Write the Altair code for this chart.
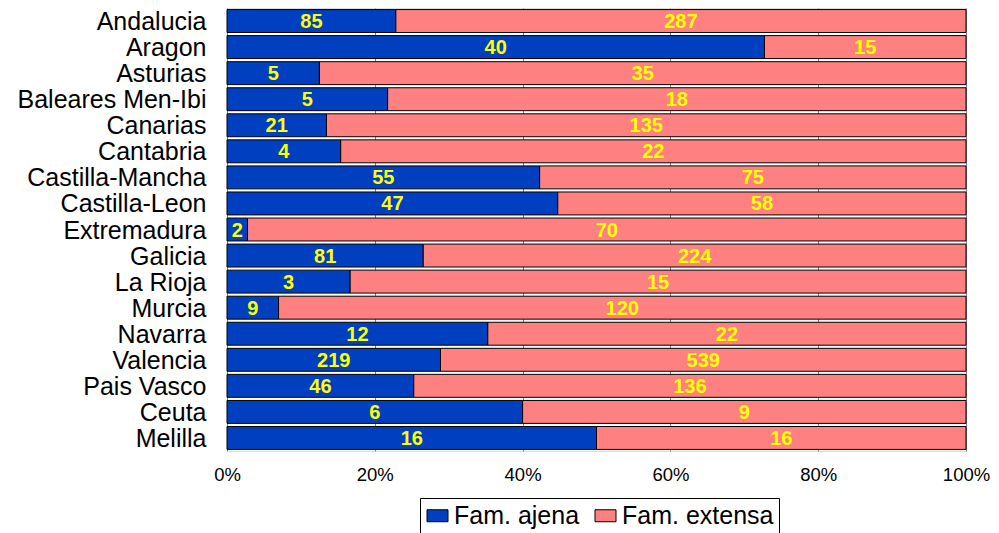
import altair as alt
import pandas as pd

regiones = ["Andalucia", "Aragon", "Asturias", "Baleares Men-Ibi", "Canarias",
            "Cantabria", "Castilla-Mancha", "Castilla-Leon", "Extremadura",
            "Galicia", "La Rioja", "Murcia", "Navarra", "Valencia",
            "Pais Vasco", "Ceuta ", "Melilla"]
fam_ajena = [85, 40, 5, 5, 21, 4, 55, 47, 2, 81, 3, 9, 12, 219, 46, 6, 16]
fam_extensa = [287, 15, 35, 18, 135, 22, 75, 58, 70, 224, 15, 120, 22, 539, 136, 9, 16]
series = ["Fam. ajena", "Fam. extensa"]
colores = ["#0040C0", "#FF8080"]
ticks_x = [0, 0.2, 0.4, 0.6, 0.8, 1.0]

rows = []
for r, a, e in zip(regiones, fam_ajena, fam_extensa):
    rows.append({"region": r, "tipo": series[0], "valor": a, "orden": 0})
    rows.append({"region": r, "tipo": series[1], "valor": e, "orden": 1})
df = pd.DataFrame(rows)

FONT = "Liberation Sans"

base = alt.Chart(df).transform_stack(
    stack="valor", groupby=["region"], as_=["x0", "x1"],
    offset="normalize", sort=[alt.SortField("orden", order="ascending")]
).transform_calculate(mid="(datum.x0 + datum.x1) / 2")

y_enc = alt.Y("region:N", sort=regiones, title=None,
              scale=alt.Scale(paddingInner=0.12, paddingOuter=0.06),
              axis=alt.Axis(labelFontSize=25, labelFont=FONT, labelColor="black",
                            ticks=False, tickSize=0, domain=False, labelPadding=21,
                            labelLimit=400, labelOffset=1))

bars = base.mark_bar(stroke="black", strokeWidth=1).encode(
    x=alt.X("x0:Q", title=None,
            scale=alt.Scale(domain=[0, 1], nice=False, zero=True),
            axis=alt.Axis(format=".0%", values=ticks_x, labelFontSize=18.5,
                          labelFont=FONT, labelColor="black", ticks=False, tickSize=0,
                          domain=False, labelPadding=14, grid=True,
                          gridColor="#808080", gridWidth=1, labelFlush=False)),
    x2="x1:Q",
    y=y_enc,
    color=alt.Color("tipo:N", scale=alt.Scale(domain=series, range=colores),
                    legend=alt.Legend(title=None, orient="none", direction="horizontal",
                                      legendX=193, legendY=490,
                                      labelFontSize=25, labelFont=FONT, labelColor="black",
                                      symbolType="M-1,-0.57H1V0.57H-1Z", symbolSize=441,
                                      symbolStrokeColor="black", symbolStrokeWidth=1,
                                      symbolOpacity=1,
                                      labelOffset=4, columnPadding=13,
                                      padding=5, strokeColor="black",
                                      fillColor="white", cornerRadius=0)),
    order=alt.Order("orden:Q"),
)

labels = base.mark_text(color="#FFFF00", fontWeight="bold", fontSize=20, font=FONT,
                        baseline="middle", align="center", dy=1).encode(
    x=alt.X("mid:Q"),
    y=alt.Y("region:N", sort=regiones),
    text=alt.Text("valor:Q"),
)

chart = alt.layer(bars, labels).properties(
    width=739, height=443,
    padding={"left": 219, "top": 0, "right": 25, "bottom": 82},
    autosize=alt.AutoSizeParams(type="none"),
).configure_view(stroke="black", strokeWidth=1.5).configure(background="white")

chart.save("out.html", embed_options={"renderer": "svg", "actions": False})
